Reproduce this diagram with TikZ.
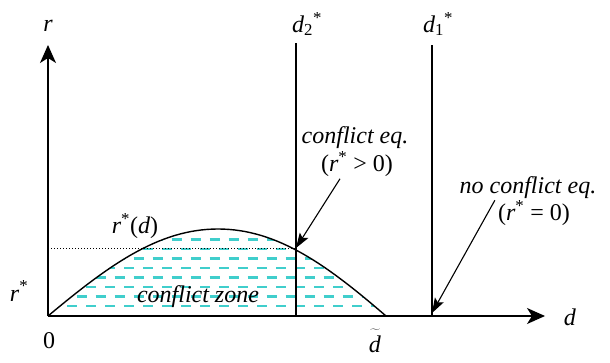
\documentclass[tikz,border=0pt]{standalone}
\usepackage{fontspec}
\setmainfont{Liberation Serif}
\usetikzlibrary{arrows.meta}
\definecolor{zonecyan}{RGB}{64,206,204}
\tikzset{
	axis/.style={line width=1.4pt,-{Stealth[length=18pt,width=16pt,inset=5pt]}},
	pointer/.style={line width=1.1pt,-{Stealth[length=15pt,width=10pt,inset=3pt]}},
	lbl/.style={font=\fontsize{24}{26}\selectfont, inner sep=0pt},
	hatch/.style={zonecyan,line width=2.3pt,dash pattern=on 10pt off 9pt}
}
\begin{document}
\begin{tikzpicture}[x=1pt,y=1pt]
			\useasboundingbox (-48,-46) rectangle (562,316);
			\coordinate (O) at (0,0);
			\coordinate (rtop) at (0,271);
			\coordinate (dright) at (497,0);
			\coordinate (cross) at (248,68);
			% hatched conflict zone
			\begin{scope}
				\clip (0,0) .. controls (60,50) and (110,87) .. (170,87) .. controls (230,87) and (280,50) .. (338,0) -- cycle;
				\foreach \k in {0,...,7}{
					\pgfmathsetmacro{\off}{mod(\k,2)*9.5}
					\draw[hatch] (\off-19,10+\k*9.5) -- (360,10+\k*9.5);
				}
			\end{scope}
			\draw[line width=0.8pt,dash pattern=on 1.4pt off 1.6pt] (0,68) -- (cross);
			\draw[line width=1.4pt] (O) .. controls (60,50) and (110,87) .. (170,87) .. controls (230,87) and (280,50) .. (338,0);
			\draw[axis] (O) -- (rtop);
			\draw[axis] (O) -- (dright);
			\draw[line width=1.2pt] (248,0) -- (248,273);
			\draw[line width=1.2pt] (384,0) -- (384,271);
			% labels
			\node[lbl] (rname) at (0,290) {\textit{r}};
			\node[lbl] (dname) at (522,-1) {\textit{d}};
			\node[lbl] (rstar) at (-29,25) {\textit{r}\textsuperscript{*}};
			\node[lbl] (zero) at (1,-25) {0};
			\node[lbl] (dtilde) at (327,-25) {$\widetilde{\mbox{\rule{0pt}{0.82em}\textit{d}}}$};
			\node[lbl] (dtwo) at (259,292) {\textit{d}\textsubscript{2}\textsuperscript{*}};
			\node[lbl] (done) at (390,292) {\textit{d}\textsubscript{1}\textsuperscript{*}};
			\node[lbl] (rofd) at (87,90) {\textit{r}\textsuperscript{*}(\textit{d})};
			\node[lbl] (zone) at (150,19) {\textit{conflict zone}};
			\node[lbl] (ceq1) at (307,178) {\textit{conflict eq.}};
			\node[lbl] (ceq2) at (309,152) {(\textit{r}\textsuperscript{*} > 0)};
			\node[lbl] (nceq1) at (480,128) {\textit{no conflict eq.}};
			\node[lbl] (nceq2) at (486,103) {(\textit{r}\textsuperscript{*} = 0)};
			\draw[pointer] ([xshift=-17pt,yshift=-2pt]ceq2.south) -- (cross);
			\draw[pointer] ([xshift=-3pt]nceq2.north west) -- (384,3);
\end{tikzpicture}
\end{document}
